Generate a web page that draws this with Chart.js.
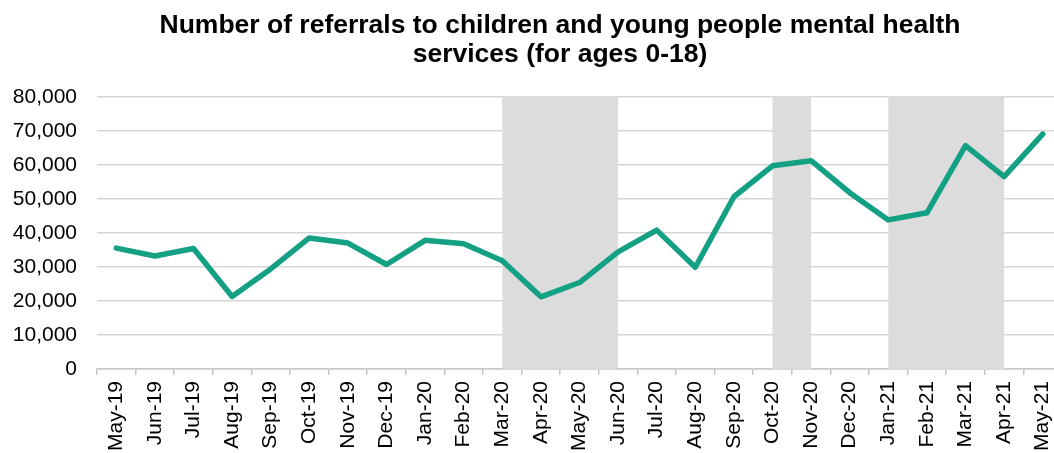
<!DOCTYPE html>
<html>
<head>
<meta charset="utf-8">
<script src="https://cdn.jsdelivr.net/npm/chart.js@4.4.0/dist/chart.umd.min.js"></script>
<style>
    html, body { margin: 0; padding: 0; overflow: hidden; background: #fff; }
    #wrap { position: absolute; left: 0; top: 0; width: 1120px; height: 457px; }
</style>
</head>
<body>
<div id="wrap"><canvas id="referrals-chart"></canvas></div>
<script>
// Chart data
const months = ['May-19', 'Jun-19', 'Jul-19', 'Aug-19', 'Sep-19', 'Oct-19', 'Nov-19', 'Dec-19',
    'Jan-20', 'Feb-20', 'Mar-20', 'Apr-20', 'May-20', 'Jun-20', 'Jul-20', 'Aug-20', 'Sep-20',
    'Oct-20', 'Nov-20', 'Dec-20', 'Jan-21', 'Feb-21', 'Mar-21', 'Apr-21', 'May-21'];
const referrals = [35500, 33200, 35400, 21300, 29400, 38500, 37000, 30700,
    37800, 36800, 31800, 21200, 25400, 34400, 40800, 29900, 50600,
    59700, 61200, 51800, 43800, 45900, 65600, 56500, 69000];
// lockdown periods shaded in grey (start month, end month)
const shadedPeriods = [['Mar-20', 'Jun-20'], ['Oct-20', 'Nov-20'], ['Jan-21', 'Apr-21']];
const yTicks = [0, 10000, 20000, 30000, 40000, 50000, 60000, 70000, 80000];

const FONT = 'Liberation Sans, Arial, sans-serif';

// Draws the grey bands behind the line
const shadingPlugin = {
    id: 'shading',
    afterLayout(chart) {
        // centre the title on the whole canvas, not the padded area
        if (chart.titleBlock) {
            chart.titleBlock.left = 0;
            chart.titleBlock.right = chart.width;
            chart.titleBlock.width = chart.width;
        }
    },
    beforeDatasetsDraw(chart) {
        const { ctx, chartArea, scales } = chart;
        ctx.save();
        ctx.fillStyle = '#dcdcdc';
        shadedPeriods.forEach(([from, to]) => {
            const x1 = scales.x.getPixelForValue(months.indexOf(from));
            const x2 = scales.x.getPixelForValue(months.indexOf(to));
            ctx.fillRect(x1, chartArea.top, x2 - x1, chartArea.bottom - chartArea.top);
        });
        ctx.restore();
    }
};

document.addEventListener('DOMContentLoaded', function() {
    const ctx = document.getElementById('referrals-chart').getContext('2d');

    new Chart(ctx, {
        type: 'line',
        data: {
            labels: months,
            datasets: [{
                label: 'Referrals',
                data: referrals,
                borderColor: '#14a083',
                borderWidth: 5.5,
                borderCapStyle: 'round',
                borderJoinStyle: 'round',
                pointRadius: 0,
                tension: 0,
                fill: false
            }]
        },
        options: {
            responsive: true,
            maintainAspectRatio: false,
            animation: false,
            layout: {
                padding: { top: 0, right: 58, left: 10, bottom: 0 }
            },
            plugins: {
                legend: { display: false },
                tooltip: { enabled: false },
                title: {
                    display: true,
                    text: ['Number of referrals to children and young people mental health',
                        'services (for ages 0-18)'],
                    color: '#000',
                    font: { family: FONT, size: 26.5, weight: 'bold', lineHeight: 1.07 },
                    padding: { top: 12, bottom: 28 }
                }
            },
            scales: {
                x: {
                    offset: true,
                    grid: {
                        offset: true,
                        drawOnChartArea: false,
                        drawTicks: true,
                        tickLength: 6,
                        color: '#c8c8c8',
                        lineWidth: 1.5
                    },
                    border: { display: true, color: '#c8c8c8', width: 1.5 },
                    ticks: {
                        color: '#000',
                        font: { family: FONT, size: 21 },
                        minRotation: 90,
                        maxRotation: 90,
                        autoSkip: false,
                        padding: 6
                    }
                },
                y: {
                    min: 0,
                    max: 80000,
                    afterBuildTicks(axis) {
                        axis.ticks = yTicks.map(v => ({ value: v }));
                    },
                    afterFit(axis) {
                        axis.width = 87;
                    },
                    grid: {
                        color: '#d6d6d6',
                        lineWidth: 1.5,
                        drawTicks: false
                    },
                    border: { display: false },
                    ticks: {
                        color: '#000',
                        font: { family: FONT, size: 21 },
                        padding: 20,
                        callback: function(value) {
                            return value.toLocaleString('en-US');
                        }
                    }
                }
            }
        },
        plugins: [shadingPlugin]
    });
});
</script>
</body>
</html>
